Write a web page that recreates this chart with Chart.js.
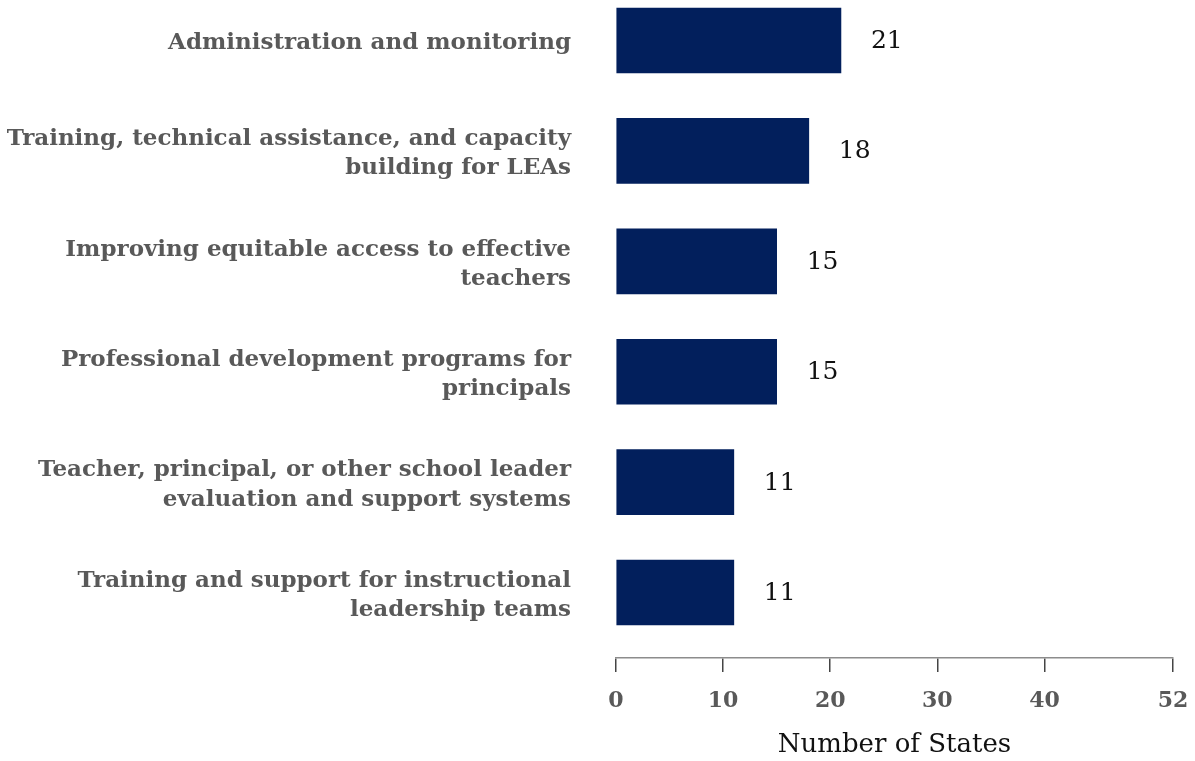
<!DOCTYPE html>
<html>
<head>
<meta charset="utf-8">
<script src="https://cdn.jsdelivr.net/npm/chart.js@4.4.1/dist/chart.umd.min.js"></script>
<style>
  html, body { margin: 0; padding: 0; background: #ffffff; }
  #wrap { position: relative; width: 1195px; height: 761px; }
</style>
</head>
<body>
<div id="wrap"><canvas id="chart"></canvas></div>
<script>
// Uses of funds reported by states
const categories = [
  ['Administration and monitoring'],
  ['Training, technical assistance, and capacity', 'building for LEAs'],
  ['Improving equitable access to effective', 'teachers'],
  ['Professional development programs for', 'principals'],
  ['Teacher, principal, or other school leader', 'evaluation and support systems'],
  ['Training and support for instructional', 'leadership teams']
];
const stateCounts = [21, 18, 15, 15, 11, 11];
const xTicks = [0, 10, 20, 30, 40, 52];
const xTitle = 'Number of States';

const SERIF = "'DejaVu Serif', 'Liberation Serif', serif";

// Writes each bar's count just past its end
const valueLabels = {
  id: 'valueLabels',
  afterDatasetsDraw(chart) {
    const ctx = chart.ctx;
    const meta = chart.getDatasetMeta(0);
    ctx.save();
    ctx.font = "25px " + SERIF;
    ctx.fillStyle = '#111111';
    ctx.textAlign = 'left';
    ctx.textBaseline = 'middle';
    meta.data.forEach((bar, i) => {
      ctx.fillText(String(stateCounts[i]), bar.x + 30, bar.y + 1);
    });
    ctx.restore();
  }
};

new Chart(document.getElementById('chart'), {
  type: 'bar',
  data: {
    datasets: [{
      data: stateCounts.map((v, i) => ({ x: v, y: i })),
      backgroundColor: '#021f5c',
      borderWidth: 0,
      barThickness: 65
    }]
  },
  options: {
    indexAxis: 'y',
    responsive: true,
    maintainAspectRatio: false,
    animation: false,
    layout: { padding: { top: 0, right: 22, bottom: 0, left: 0 } },
    plugins: {
      legend: { display: false },
      tooltip: { enabled: false }
    },
    scales: {
      y: {
        type: 'linear',
        reverse: true,
        offset: false,
        min: -0.367,
        max: 5.593,
        afterBuildTicks: s => { s.ticks = categories.map((_, i) => ({ value: i })); },
        afterFit: s => {
          s.width = 616;
          s.paddingTop = 0;
          s.paddingBottom = 0;
        },
        grid: { display: false, drawTicks: false, tickLength: 0 },
        border: { display: false },
        ticks: {
          padding: 45,
          labelOffset: 3,
          color: '#595959',
          font: { family: SERIF, size: 23, weight: 'bold', lineHeight: 1.27 },
          callback: v => categories[v] || ''
        }
      },
      x: {
        type: 'linear',
        min: 0,
        max: 52,
        afterBuildTicks: s => { s.ticks = xTicks.map(v => ({ value: v })); },
        afterFit: s => {
          s.height = 103;
          s.paddingLeft = 0;
          s.paddingRight = 0;
        },
        grid: {
          drawOnChartArea: false,
          drawTicks: true,
          tickLength: 14,
          color: '#444444',
          lineWidth: 1.5
        },
        border: { display: true, color: '#8c8c8c', width: 1.5 },
        ticks: {
          padding: 16,
          color: '#595959',
          font: { family: SERIF, size: 22, weight: 'bold', lineHeight: 1.2 },
          maxRotation: 0,
          autoSkip: false
        },
        title: {
          display: true,
          text: xTitle,
          color: '#111111',
          font: { family: SERIF, size: 26, lineHeight: 1.2 },
          padding: { top: 10, bottom: 0 }
        }
      }
    }
  },
  plugins: [valueLabels]
});
</script>
</body>
</html>
